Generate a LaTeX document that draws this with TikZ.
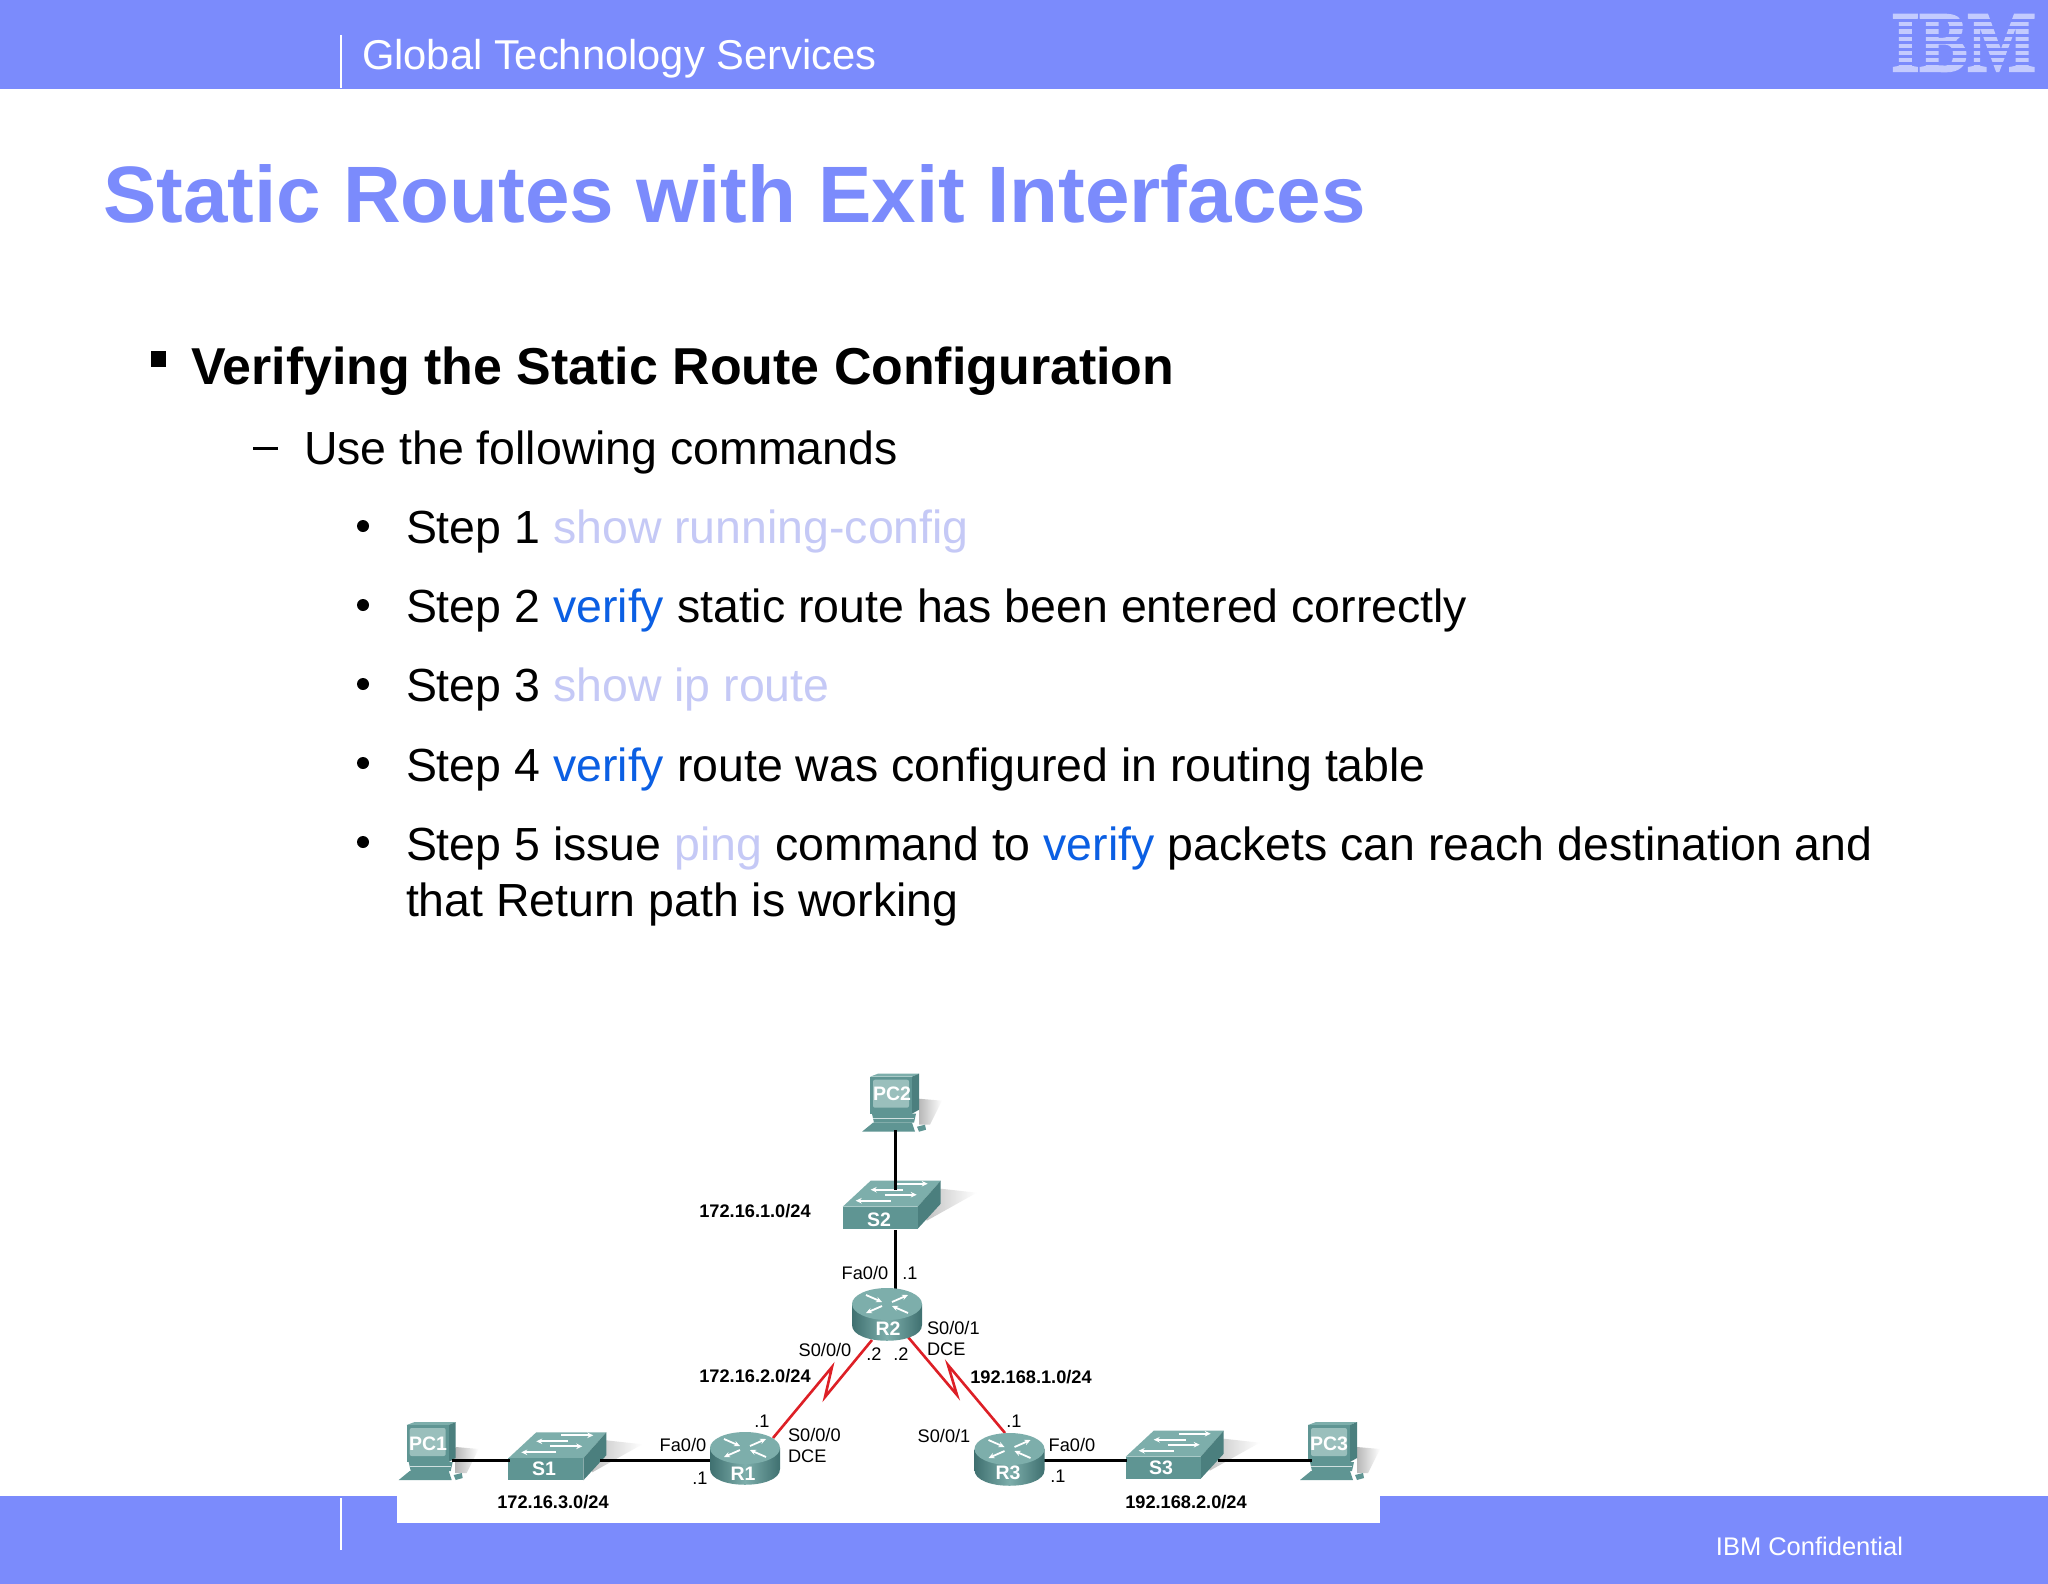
\documentclass[tikz,border=0pt]{standalone}
\usepackage{fontspec}
\setmainfont{Liberation Sans}
\newfontfamily\logofont[FakeBold=2.5]{Liberation Serif Bold}
\usetikzlibrary{arrows.meta}
\definecolor{band}{HTML}{7B8BFC}
\definecolor{lav}{HTML}{C5C9F6}
\definecolor{vblue}{HTML}{0B5FE3}
\definecolor{tealfront}{HTML}{5F9593}
\definecolor{tealtop}{HTML}{7DAEAB}
\definecolor{tealside}{HTML}{4B7F7E}
\definecolor{tealdark}{HTML}{3F7070}
\definecolor{tealscreen}{HTML}{9ABFBC}
\definecolor{serialred}{HTML}{DD1F26}
\newcommand{\fs}[1]{\fontsize{#1}{#1}\selectfont}
\tikzset{
 x=1pt,y=-1pt,
 every node/.style={inner sep=0pt,outer sep=0pt},
 body/.style={anchor=base west,font=\fs{46.45},text=black},
 small/.style={font=\fs{18.2},text=black},
 net/.style={font=\fs{18.2}\bfseries,text=black},
 devlabel/.style={font=\fs{19.5}\bfseries,text=white},
 link/.style={line width=3pt,black},
 serial/.style={draw=serialred,line width=2.6pt,miter limit=10},
 wa/.style={draw=white,line width=1.8pt,-{Stealth[length=6pt,width=5.5pt]}},
 pics/pcicon/.style={code={
   \shade[left color=black!28,right color=white,draw=none] (49,22)--(72,24)--(60,48)--(49,48)--cycle;
   \fill[tealtop] (0,0)--(8,-3)--(49,-3)--(42,0)--cycle;
   \fill[tealside] (42,0)--(49,-3)--(49,33)--(42,37)--cycle;
   \fill[tealfront] (0,0) rectangle (42,37);
   \fill[tealscreen,rounded corners=2pt] (3,3) rectangle (39,31);
   \fill[tealfront] (2,37)--(46,37)--(44,46)--(4,46)--cycle;
   \fill[white!70!tealfront] (3,41) rectangle (44,42);
   \fill[tealfront] (3,46)--(42,46)--(45,55)--(-8,55)--cycle;
   \fill[tealfront] (47,50)--(55,48)--(56,53)--(49,55)--cycle;
 }},
 pics/switchicon/.style={code={
   \shade[left color=black!25,right color=white,draw=none] (98,-18)--(134,-14)--(84,14)--(80,4)--cycle;
   \fill[tealtop] (0,0)--(28,-26)--(98,-26)--(75,0)--cycle;
   \fill[tealside] (75,0)--(98,-26)--(98,-3)--(75,22)--cycle;
   \fill[tealfront] (0,0) rectangle (75,22);
   \draw[wa] (53,-23)--(85,-23);
   \draw[wa] (60,-17)--(28,-17);
   \draw[wa] (42,-12)--(74,-12);
   \draw[wa] (48,-6)--(13,-6);
 }},
 pics/routericon/.style={code={
   \shade[left color=tealdark,right color=tealdark,middle color=tealtop] (-35,0)--(-35,21) .. controls (-35,42) and (35,42) .. (35,21)--(35,0)--cycle;
   \fill[tealtop] (0,0) ellipse[x radius=35,y radius=16];
   \draw[wa] (-21,-9)--(-5,-2);
   \draw[wa] (5,-2)--(21,-9);
   \draw[wa] (-5,2)--(-21,9);
   \draw[wa] (21,9)--(5,2);
 }}
}
\begin{document}
\begin{tikzpicture}
\useasboundingbox (0,0) rectangle (2048,1584);
\fill[white] (0,0) rectangle (2048,1584);
% bands
\fill[band] (0,0) rectangle (2048,89);
\fill[band] (0,1496) rectangle (2048,1584);
\fill[white] (397,1496) rectangle (1380,1523);
\draw[white,line width=1.5pt] (341,35)--(341,88);
\draw[white,line width=1.5pt] (341,1498)--(341,1550);
\node[anchor=base west,font=\fs{41.7},text=white] (hdr) at (362,70) {Global Technology Services};
\node[anchor=base east,font=\fs{25.5},text=white] (conf) at (1903,1555) {IBM Confidential};
% IBM logo
\node[anchor=base,font=\logofont\fs{86},text=white!55!band,xscale=.84] (ibm) at (1963.5,71) {IBM};
\foreach \yy in {19.5,26.5,34,41,48,55,62.5}{\fill[band] (1890,\yy) rectangle (2038,\yy+3);}
% title and body
\node[anchor=base west,font=\fs{80}\bfseries,text=band] (title) at (103,222) {Static Routes with Exit Interfaces};
\fill[black] (151,351) rectangle (166,367);
\node[anchor=base west,font=\fs{51.9}\bfseries,text=black] (v) at (191,384) {Verifying the Static Route Configuration};
\fill[black] (253,447) rectangle (278,450);
\node[body] (use) at (304,464) {Use the following commands};
\foreach \yy in {526,605,684,763,842}{\fill[black] (363,\yy) circle[radius=6];}
\node[body] (st1) at (406,543) {Step 1 \textcolor{lav}{show running-config}};
\node[body] (st2) at (406,622) {Step 2 \textcolor{vblue}{verify} static route has been entered correctly};
\node[body] (st3) at (406,701.5) {Step 3 \textcolor{lav}{show ip route}};
\node[body] (st4) at (406,781) {Step 4 \textcolor{vblue}{verify} route was configured in routing table};
\node[body] (st5) at (406,860) {Step 5 issue \textcolor{lav}{ping} command to \textcolor{vblue}{verify} packets can reach destination and};
\node[body] (st5b) at (406,916) {that Return path is working};
% link end points
\coordinate (pc1c) at (452,1460);
\coordinate (s1w) at (510,1460);
\coordinate (s1e) at (600,1460);
\coordinate (r1w) at (712,1460);
\coordinate (r3e) at (1043,1460);
\coordinate (s3w) at (1127,1460);
\coordinate (s3e) at (1218,1460);
\coordinate (pc3c) at (1312,1460);
\coordinate (pc2c) at (895,1130);
\coordinate (s2n) at (895,1190);
\coordinate (s2s) at (895,1230);
\coordinate (r2n) at (895,1292);
\coordinate (r1ne) at (773,1438);
\coordinate (r2sw) at (872,1340);
\coordinate (r2se) at (908,1337);
\coordinate (r3nw) at (1005,1433);
\coordinate (z1a) at (832,1367);
\coordinate (z1b) at (825,1397);
\coordinate (z2a) at (948,1365);
\coordinate (z2b) at (957,1395);
% device icons
\pic at (406.7,1425) {pcicon};
\pic at (870,1076.7) {pcicon};
\pic at (1308,1425) {pcicon};
\pic at (508.3,1458.3) {switchicon};
\pic at (842.7,1206.7) {switchicon};
\pic at (1125.7,1456.7) {switchicon};
% connectors
\draw[link] (s1e)--(r1w);
\draw[link] (r3e)--(s3w);
\draw[link] (s3e)--(pc3c);
\draw[link] (pc1c)--(s1w);
\draw[link] (pc2c)--(s2n);
\draw[link] (s2s)--(r2n);
\draw[serial] (r1ne)--(z1a)--(z1b)--(r2sw);
\draw[serial] (r2se)--(z2b)--(z2a)--(r3nw);
\pic at (745,1448) {routericon};
\pic at (887,1304) {routericon};
\pic at (1009.5,1449) {routericon};
% device labels
\node[devlabel] (PC1) at (428,1444) {PC1};
\node[devlabel] (PC2) at (892,1094) {PC2};
\node[devlabel] (PC3) at (1329,1444) {PC3};
\node[devlabel] (S1) at (544,1469) {S1};
\node[devlabel] (S2) at (879,1220) {S2};
\node[devlabel] (S3) at (1161,1468) {S3};
\node[devlabel] (R1) at (743,1474) {R1};
\node[devlabel] (R2) at (888,1329) {R2};
\node[devlabel] (R3) at (1008,1473) {R3};
% network labels
\node[net] (n1) at (755,1211) {172.16.1.0/24};
\node[net] (n2) at (755,1376) {172.16.2.0/24};
\node[net] (n3) at (553,1502) {172.16.3.0/24};
\node[net] (n4) at (1031,1377) {192.168.1.0/24};
\node[net] (n5) at (1186,1502) {192.168.2.0/24};
% interface labels
\node[small] (a1) at (865,1273) {Fa0/0};
\node[small] (a2) at (910,1273) {.1};
\node[small] (a3) at (825,1350) {S0/0/0};
\node[small] (a4) at (874,1354) {.2};
\node[small] (a5) at (901,1354) {.2};
\node[small,anchor=west] (a6) at (927,1328) {S0/0/1};
\node[small,anchor=west] (a7) at (927,1349) {DCE};
\node[small] (b1) at (762,1421) {.1};
\node[small] (b2) at (683,1445) {Fa0/0};
\node[small] (b3) at (700,1478) {.1};
\node[small,anchor=west] (b4) at (788,1435) {S0/0/0};
\node[small,anchor=west] (b5) at (788,1456) {DCE};
\node[small] (c1) at (1014,1421) {.1};
\node[small] (c2) at (944,1436) {S0/0/1};
\node[small] (c3) at (1072,1445) {Fa0/0};
\node[small] (c4) at (1058,1476) {.1};
\end{tikzpicture}
\end{document}
